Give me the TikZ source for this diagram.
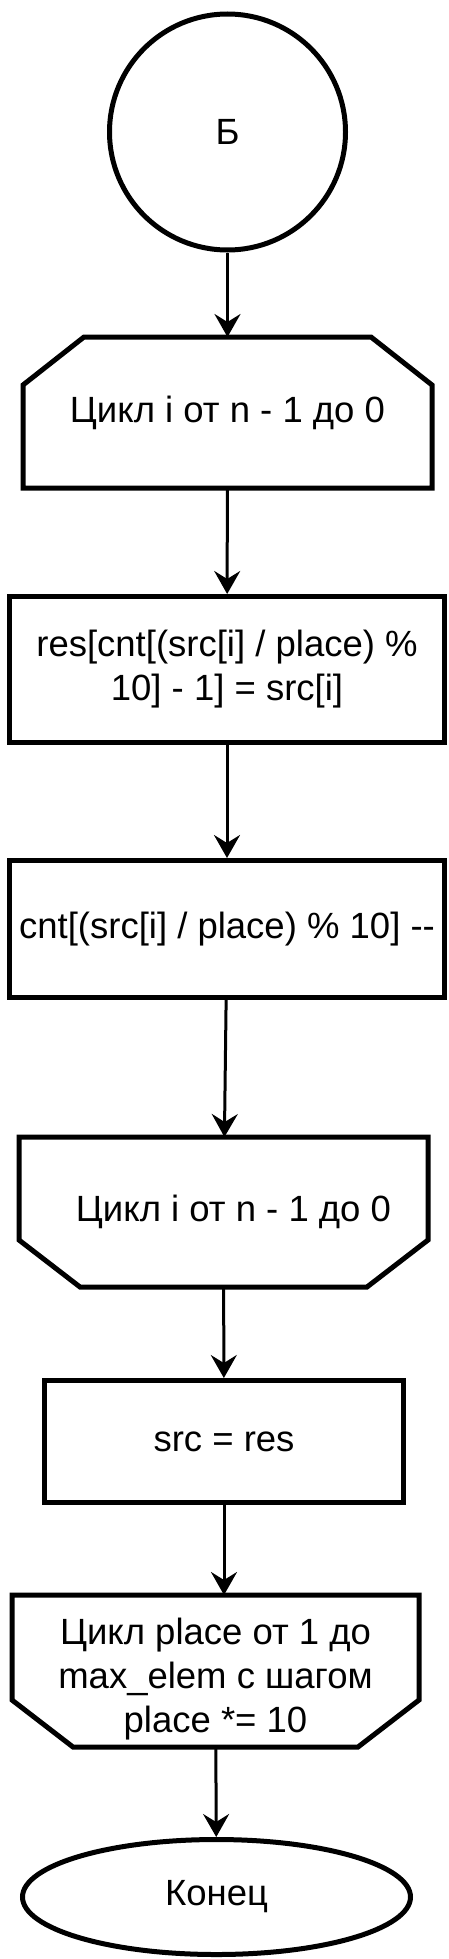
\documentclass[tikz,border=0pt]{standalone}
\usepackage{fontspec}
\setmainfont{Liberation Sans}
\usetikzlibrary{arrows.meta,shapes.geometric}

\newcommand{\loopopen}[1]{\draw[shp] (#1.south west) -- ([shift={(0,48)}]#1.north west) -- ([shift={(61,0)}]#1.north west) -- ([shift={(-61,0)}]#1.north east) -- ([shift={(0,48)}]#1.north east) -- (#1.south east) -- cycle;}
\newcommand{\loopclose}[1]{\draw[shp] (#1.north west) -- (#1.north east) -- ([shift={(0,-47)}]#1.south east) -- ([shift={(-61,0)}]#1.south east) -- ([shift={(61,0)}]#1.south west) -- ([shift={(0,-47)}]#1.south west) -- cycle;}

\begin{document}
\begin{tikzpicture}[x=1pt,y=-1pt,
    every node/.style={font=\fontsize{36.5}{44}\selectfont,inner sep=0pt,align=center},
    shp/.style={line width=5pt,line join=miter},
    blk/.style={shp,draw,rectangle},
    cyc/.style={shp,rectangle},
    flow/.style={line width=3pt,-{Stealth[length=23pt,width=26pt,inset=8pt]}}]
        \useasboundingbox (0,0) rectangle (448,1959);
        \node[shp,draw,circle,minimum size=236pt] (start) at (227.5,132) {Б};
        \node[cyc,minimum width=404pt,minimum height=146pt] (loopA) at (227.5,412.5) {Цикл i от n - 1 до 0};
        \node[blk,minimum width=435pt,minimum height=146pt] (op1) at (227,669.5) {res[cnt[(src[i] / place) \%\\10] - 1] = src[i]};
        \node[blk,minimum width=435pt,minimum height=137pt] (op2) at (227,929) {cnt[(src[i] / place) \% 10] -{}-};
        \node[cyc,minimum width=404pt,minimum height=145pt] (loopB) at (223.5,1212) {\hspace*{20pt}Цикл i от n - 1 до 0};
        \node[blk,minimum width=359pt,minimum height=122pt] (op3) at (224,1441.5) {src = res};
        \node[cyc,minimum width=402pt,minimum height=147pt] (loopC) at (215.5,1671) {\raisebox{-9pt}[\height][\depth]{\begin{tabular}{@{}c@{}}Цикл place от 1 до\\max\_elem с шагом\\place *= 10\end{tabular}}};
        \node[shp,draw,ellipse,minimum width=388pt,minimum height=115pt] (end) at (216.5,1897) {Конец};
        \loopopen{loopA}
        \loopclose{loopB}
        \loopclose{loopC}
        \foreach \a/\b in {start/loopA,loopA/op1,op1/op2,op2/loopB,loopB/op3,loopC/end} {
            \draw[flow] (\a) -- (\b);
          }
        \draw[flow] (op3) -- (op3 |- loopC.north);
      \end{tikzpicture}
\end{document}
